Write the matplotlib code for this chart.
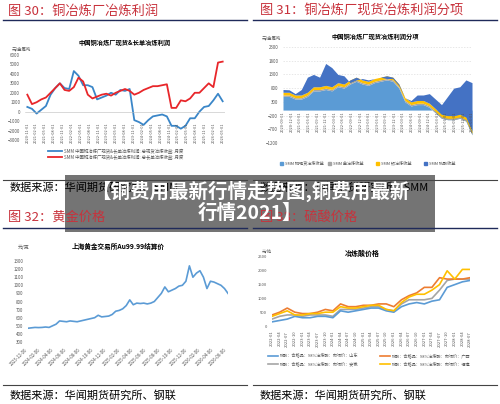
import matplotlib
matplotlib.use("Agg")
import matplotlib.pyplot as plt
from matplotlib.patches import Rectangle
import numpy as np

plt.rcParams['font.family'] = ['Noto Sans CJK SC', 'DejaVu Sans']

# Panel 30
p30_dates = ["2020-11-01","2021-02-01","2021-05-01","2021-08-01","2021-11-01","2022-02-01","2022-05-01","2022-08-01","2022-11-01","2023-02-01","2023-05-01","2023-08-01","2023-11-01","2024-02-01","2024-05-01","2024-08-01","2024-11-01","2025-02-01","2025-05-01","2025-08-01","2025-11-01","2026-02-01","2026-05-01"]
p30_spot = [500,300,-200,200,600,1800,2500,3000,2500,2400,4300,3800,2800,2800,2600,1300,1500,1700,2000,1800,2300,2200,2400,-900,-1100,-1400,-900,-500,-400,-300,-500,-1500,-1500,-1800,-1500,-700,-700,0,500,600,1200,1900,1100]
p30_long = [1800,800,1000,1300,1500,2000,2500,3000,2300,2200,2600,3600,3200,1800,1400,1600,1800,1900,1700,2000,2200,2400,2200,1800,2000,2300,2500,2700,2700,2800,2900,400,400,1200,1100,1400,2000,2000,2500,3000,2600,5200,5300]
# Panel 31
p31_dates = ["2020-09-01","2020-12-01","2021-03-01","2021-06-01","2021-09-01","2021-12-01","2022-03-01","2022-06-01","2022-09-01","2022-12-01","2023-03-01","2023-06-01","2023-09-01","2023-12-01","2024-03-01","2024-06-01","2024-09-01","2024-12-01","2025-03-01","2025-06-01","2025-09-01","2025-12-01","2026-03-01"]
p31_copper = [500,500,400,400,500,700,700,750,700,850,800,950,1050,950,900,1000,1050,1100,1050,800,300,150,200,200,100,-100,-300,-350,-350,-300,-400,-900]
p31_gold = [50]*32
p31_silver = [100]*32
p31_total = [750,740,600,750,1200,1300,1200,1700,1550,1300,1250,1000,1100,1150,1100,1150,1200,1150,1150,900,450,350,550,550,600,400,200,500,800,850,1100,1000]
# Panel 32
p32_dates = ["2023-12-06","2024-02-06","2024-04-06","2024-06-06","2024-08-06","2024-10-06","2024-12-06","2025-02-06","2025-04-06","2025-06-06","2025-08-06","2025-10-06","2025-12-06","2026-02-06","2026-04-06","2026-06-06"]
p32_gold = [470,475,480,478,480,485,480,500,520,560,555,550,560,555,550,560,570,580,590,600,630,610,615,620,640,680,690,710,750,820,760,780,775,780,770,780,800,850,900,980,920,940,960,990,1000,1050,1240,1100,1150,1180,1100,960,1050,1040,1020,1000,960,900]
# Panel 33
p33_dates = ["2022-01","2022-04","2022-07","2022-10","2023-01","2023-04","2023-07","2023-10","2024-01","2024-04","2024-07","2024-10","2025-01","2025-04","2025-07","2025-10","2026-01","2026-04","2026-07","2026-10","2027-01","2027-04","2027-07","2027-10","2028-01","2028-04","2028-07"]
p33_sd = [150,200,250,350,300,300,350,350,300,550,500,550,600,650,650,550,500,700,800,850,800,900,950,1400,1500,1600,1650]
p33_gx = [400,500,650,500,450,450,500,600,550,800,700,700,750,750,800,800,700,950,1100,1200,1400,1400,1750,1700,1700,1700,1750]
p33_ah = [250,350,400,400,350,400,400,400,350,600,600,600,650,700,700,600,550,800,950,950,950,1000,1300,1650,1700,1700,1700]
p33_fj = [350,450,550,400,400,450,450,500,500,700,650,650,700,750,750,600,550,850,1050,1150,1150,1300,1500,2000,1700,2050,2050]

fig = plt.figure(figsize=(5, 4.04), dpi=100)
W, H = 500, 404
def ax_px(x0, y0, x1, y1):
    return fig.add_axes([x0/W, 1-y1/H, (x1-x0)/W, (y1-y0)/H])
def ftext(x, y, s, **kw):
    fig.text(x/W, 1-y/H, s, **kw)
def hline(x0, x1, y, c='#1f2a5a', lw=1.0):
    fig.add_artist(plt.Line2D([x0/W, x1/W], [1-y/H, 1-y/H], color=c, lw=lw))

red = '#c8323c'
for (x, y, s) in [(8, 11, "图 30：铜冶炼厂冶炼利润"), (260, 11, "图 31：铜冶炼厂现货冶炼利润分项"),
                  (8, 217, "图 32：黄金价格"), (260, 217, "图 33：硫酸价格")]:
    ftext(x, y, s, color=red, fontsize=9.5, va='center')
for (x0, x1, y) in [(3, 247, 20), (253, 497, 20), (3, 247, 228), (253, 497, 228)]:
    hline(x0, x1, y)
for (x0, x1, y) in [(3, 247, 180), (253, 497, 180), (3, 247, 385), (253, 497, 385)]:
    hline(x0, x1, y, c='#444444', lw=0.8)
ftext(10, 188, "数据来源：华闻期货研究所、SMM", fontsize=8, va='center')
ftext(260, 188, "数据来源：华闻期货研究所、SMM", fontsize=8, va='center')
ftext(10, 395, "数据来源：华闻期货研究所、钢联", fontsize=8, va='center')
ftext(260, 395, "数据来源：华闻期货研究所、钢联", fontsize=8, va='center')

def style(ax, fs=3.2):
    for s in ax.spines.values():
        s.set_visible(False)
    ax.tick_params(length=0, labelsize=fs, colors='#555555')

def inner_dates(ax, pos, labels, y, fs=2.8):
    ax.set_xticks([])
    for p, lab in zip(pos, labels):
        ax.text(p, y, lab, rotation=90, fontsize=fs, color='#555555', ha='center', va='top')

# Panel 30
ax1 = ax_px(25, 55, 225, 140)
x = np.arange(len(p30_spot))
ax1.plot(x, p30_spot, color='#3a86c8', lw=1.3)
ax1.plot(x, p30_long, color='#e8262a', lw=1.3)
ax1.set_ylim(-3000, 6000); ax1.set_yticks(range(-3000, 6001, 1000))
ax1.set_xlim(-0.5, len(x)-0.5)
ax1.axhline(0, color='#bbbbbb', lw=0.4)
style(ax1)
inner_dates(ax1, np.linspace(0, len(x)-1, len(p30_dates)), p30_dates, -1150)
ftext(125, 42, "中国铜冶炼厂现货&长单冶炼利润", fontsize=4.5, ha='center', weight='bold', va='center')
ftext(12, 49, "元/金属吨", fontsize=3.2, color='#555555', va='center')
hline(48, 62, 151, c='#3a86c8', lw=1.3); hline(48, 62, 157, c='#e8262a', lw=1.3)
ftext(64, 151, "SMM 中国铜冶炼厂现货&长单冶炼利润: 总现货冶炼收益: 月度", fontsize=3.2, color='#555555', va='center')
ftext(64, 157, "SMM 中国铜冶炼厂现货&长单冶炼利润: 总长单冶炼收益: 月度", fontsize=3.2, color='#555555', va='center')

# Panel 31
ax2 = ax_px(283, 47, 472, 143)
x = np.arange(len(p31_copper))
b = np.array(p31_copper, float); g = b + np.array(p31_gold); yv = g + np.array(p31_silver); t = np.array(p31_total, float)
ax2.fill_between(x, 0, b, color='#5b9bd5', lw=0)
ax2.fill_between(x, b, g, color='#a5a5a5', lw=0)
ax2.fill_between(x, g, yv, color='#ffc000', lw=0)
ax2.fill_between(x, yv, t, color='#4472c4', lw=0)
ax2.set_ylim(-1200, 2300); ax2.set_yticks(range(-1200, 2301, 500))
ax2.yaxis.grid(True, ls=(0, (2, 2)), color='#dddddd', lw=0.5)
ax2.set_axisbelow(True)
ax2.set_xlim(0, len(x)-1)
style(ax2)
inner_dates(ax2, np.linspace(0, len(x)-1, len(p31_dates)), p31_dates, -60)
ftext(375, 37, "中国铜冶炼厂现货冶炼利润分项", fontsize=4.5, ha='center', weight='bold', va='center')
ftext(262, 38, "元/金属吨", fontsize=3.2, color='#555555', va='center')
for i, (lab, c) in enumerate([("SMM 铜现货冶炼收益", '#5b9bd5'), ("SMM 金冶炼收益", '#a5a5a5'), ("SMM 银冶炼收益", '#ffc000'), ("SMM 硫酸收益", '#4472c4')]):
    xx = 280 + i*48
    fig.add_artist(Rectangle((xx/W, 1-165/H), 3/W, 3/H, color=c))
    ftext(xx+5, 163.5, lab, fontsize=3.0, color='#555555', va='center')

# Panel 32
ax3 = ax_px(28, 261, 228, 342)
x = np.arange(len(p32_gold))
ax3.plot(x, p32_gold, color='#5b9bd5', lw=1.2)
ax3.set_ylim(300, 1300); ax3.set_yticks(range(300, 1301, 100))
ax3.set_xlim(0, len(x)-1)
ax3.set_xticks(np.linspace(0, len(x)-1, len(p32_dates))); ax3.set_xticklabels(p32_dates, rotation=45, ha='right')
style(ax3)
ftext(118, 246, "上海黄金交易所Au99.99结算价", fontsize=4.8, ha='center', weight='bold', va='center')
ftext(18, 247, "元/克", fontsize=3.5, color='#555555', va='center')

# Panel 33
ax4 = ax_px(272, 257, 470, 326)
x = np.arange(len(p33_sd))
for v, c in [(p33_ah, '#a5a5a5'), (p33_sd, '#5b9bd5'), (p33_gx, '#ed7d31'), (p33_fj, '#ffc000')]:
    ax4.plot(x, v, color=c, lw=1.2)
ax4.set_ylim(0, 2500); ax4.set_yticks(range(0, 2501, 500))
ax4.set_xlim(0, len(x)-1)
ax4.set_xticks(x); ax4.set_xticklabels(p33_dates, rotation=90)
style(ax4, fs=3.0)
ftext(362, 253, "冶炼酸价格", fontsize=5, ha='center', weight='bold', va='center')
ftext(262, 251, "元/吨", fontsize=3.0, color='#555555', va='center')
for (xx, yy, lab, c) in [(268, 356, "硫酸：合格品：98%冶炼酸：市场价：山东", '#5b9bd5'), (380, 356, "硫酸：合格品：98%冶炼酸：市场价：广西", '#ed7d31'),
                          (268, 364, "硫酸：合格品：98%冶炼酸：市场价：安徽", '#a5a5a5'), (380, 364, "硫酸：合格品：98%冶炼酸：市场价：福建", '#ffc000')]:
    hline(xx, xx+10, yy, c=c, lw=1.2)
    ftext(xx+12, yy, lab, fontsize=3.0, color='#555555', va='center')

# Banner
fig.add_artist(Rectangle((65/W, 1-232/H), 370/W, 57/H, color='#555555', alpha=0.82, lw=0))
ftext(250, 202, "【铜费用最新行情走势图,铜费用最新\n行情2021】", fontsize=14, color='white',
      weight='bold', ha='center', va='center', linespacing=1.1)

fig.savefig("out.png", dpi=100)
